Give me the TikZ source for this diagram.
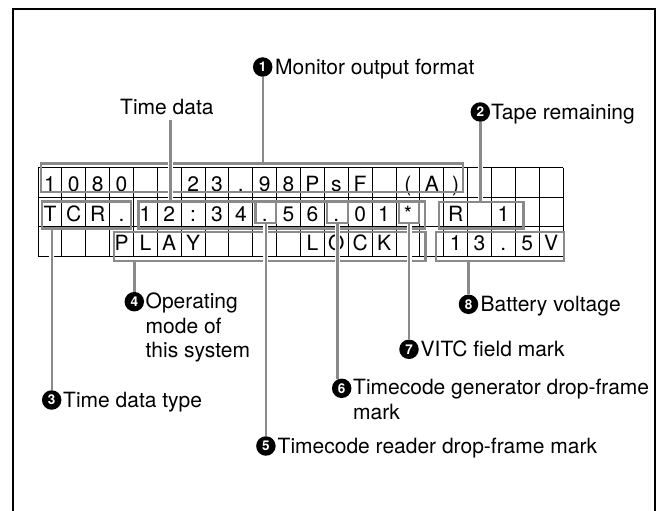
\documentclass[tikz,border=0pt]{standalone}
\usepackage{fontspec}
\setmainfont{TeX Gyre Heros}
\usetikzlibrary{fit}
\definecolor{gline}{HTML}{8A8A8A}
\begin{document}
\begin{tikzpicture}[x=1pt,y=-1pt,
  lbl/.style={inner sep=0pt, anchor=base west, font=\fontsize{21}{24.5}\selectfont},
  cell/.style={inner sep=0pt, anchor=base, font=\fontsize{21}{24}\selectfont},
  numc/.style={circle, fill=black, text=white, inner sep=0pt, minimum size=19.5pt, font=\fontsize{13.5}{13.5}\selectfont\bfseries},
  gbox/.style={draw=gline, line width=2.4pt, inner sep=0pt, outer sep=0pt, rectangle},
  conn/.style={draw=gline, line width=2.4pt},
  halo/.style={draw=white, line width=5pt, shorten >=3pt},
  gridline/.style={draw=black, line width=0.9pt}]
\useasboundingbox (0,0) rectangle (664,511);
% frame
\draw[line width=1.5pt] (13,511) -- (13,9) -- (655,9) -- (655,511);
% grid
\def\cw{23.8636}
\foreach \i in {0,...,22} \draw[gridline] ({38+\i*\cw},167.5) -- ({38+\i*\cw},256.5);
\foreach \y in {167.5,197,226.5,256.5} \draw[gridline] (38,\y) -- (563,\y);
% cell texts
\foreach \i/\c in {1/1,2/0,3/8,4/0,7/2,8/3,9/.,10/9,11/8,12/P,13/s,14/F,16/(,17/A,18/)}
  \node[cell] (ra\i) at ({38+(\i-0.5)*\cw},191.5) {\c};
\foreach \i/\c in {1/T,2/C,3/R,4/.,5/1,6/2,7/:,8/3,9/4,10/.,11/5,12/6,13/.,14/0,15/1,16/*,18/R,20/1}
  \node[cell] (rb\i) at ({38+(\i-0.5)*\cw},221) {\c};
\foreach \i/\c in {4/P,5/L,6/A,7/Y,12/L,13/O,14/C,15/K,18/1,19/3,20/.,21/5,22/V}
  \node[cell] (rc\i) at ({38+(\i-0.5)*\cw},250.5) {\c};
% grey boxes
\node[gbox, fit={(40.7,163.3) (463,192)}] (bfmt) {};
\node[gbox, fit={(41.7,201.5) (131,228.3)}] (btcr) {};
\node[gbox, fit={(138.3,201.5) (425,228.3)}] (btd) {};
\node[gbox, fit={(255.5,201.7) (276.2,223)}] (bdota) {};
\node[gbox, fit={(327,201.7) (347.8,223)}] (bdotb) {};
\node[gbox, fit={(399,201.7) (419,223)}] (bstar) {};
\node[gbox, fit={(439,201.8) (523.6,228.5)}] (brem) {};
\node[gbox, fit={(114,232) (425.6,261)}] (bmode) {};
\node[gbox, fit={(435.7,232) (564,261)}] (bvolt) {};
% numbered circles
\node[numc] (n1) at (262.7,67) {1};
\node[numc] (n2) at (480.3,112) {2};
\node[numc] (n3) at (51.7,400) {3};
\node[numc] (n4) at (134.3,301.7) {4};
\node[numc] (n5) at (265.9,446) {5};
\node[numc] (n6) at (341.7,388.3) {6};
\node[numc] (n7) at (409,349.3) {7};
\node[numc] (n8) at (468.5,304.3) {8};
% labels
\node[lbl] (t1) at (275,74.5) {Monitor output format};
\node[lbl] (t2) at (491,119) {Tape remaining};
\node[lbl] (ttd) at (120,114) {Time data};
\node[lbl] (t3) at (63,407) {Time data type};
\node[lbl, anchor=north west, align=left] (t4) at (145.5,292.7) {Operating\\mode of\\this system};
\node[lbl] (t5) at (277.5,453) {Timecode reader drop-frame mark};
\node[lbl, anchor=north west, align=left] (t6) at (353,379.3) {Timecode generator drop-frame\\mark};
\node[lbl] (t7) at (420.5,356) {VITC field mark};
\node[lbl] (t8) at (480.5,311) {Battery voltage};
% connectors
\draw[halo] (n1.south) -- (n1.south |- bfmt.north);
\draw[conn] (n1.south) -- (n1.south |- bfmt.north);
\draw[halo] (n2.south) -- (n2.south |- brem.north);
\draw[conn] (n2.south) -- (n2.south |- brem.north);
\draw[halo] ([shift={(3.5pt,-5pt)}]ttd.south) -- ([xshift=3.5pt]ttd.south |- btd.north);
\draw[conn] ([shift={(3.5pt,-5pt)}]ttd.south) -- ([xshift=3.5pt]ttd.south |- btd.north);
\draw[halo] (n3.north) -- (n3.north |- btcr.south);
\draw[conn] (n3.north) -- (n3.north |- btcr.south);
\draw[halo] (n4.north) -- (n4.north |- bmode.south);
\draw[conn] (n4.north) -- (n4.north |- bmode.south);
\draw[halo] (n5.north) -- (n5.north |- bdota.south);
\draw[conn] (n5.north) -- (n5.north |- bdota.south);
\draw[halo] ([yshift=-1pt]bdotb.south |- n6.north) -- (bdotb.south);
\draw[conn] ([yshift=-1pt]bdotb.south |- n6.north) -- (bdotb.south);
\draw[halo] (n7.north) -- (n7.north |- bstar.south);
\draw[conn] (n7.north) -- (n7.north |- bstar.south);
\draw[halo] (n8.north) -- (n8.north |- bvolt.south);
\draw[conn] (n8.north) -- (n8.north |- bvolt.south);
\end{tikzpicture}
\end{document}
